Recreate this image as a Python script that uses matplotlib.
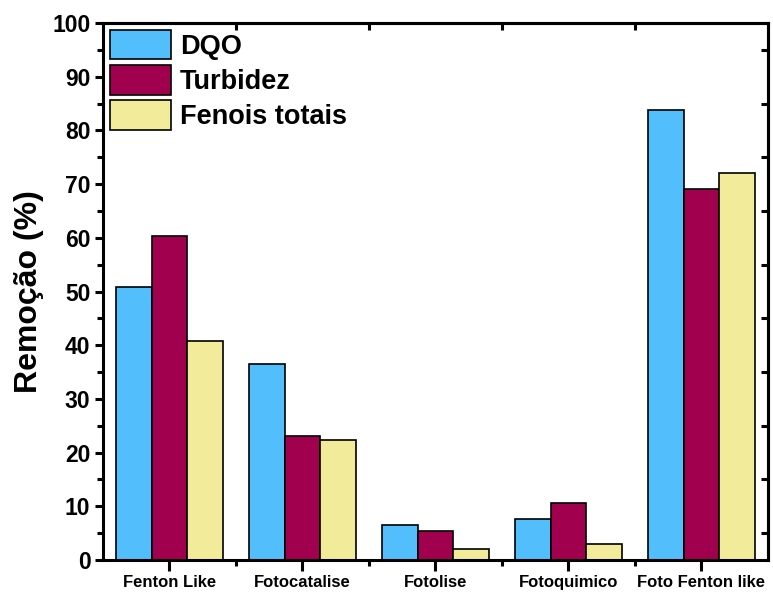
import matplotlib
matplotlib.use("Agg")
import matplotlib.pyplot as plt
import numpy as np

plt.rcParams['font.family'] = ['Liberation Sans', 'DejaVu Sans']
plt.rcParams['font.weight'] = 'bold'

categories = ["Fenton Like", "Fotocatalise", "Fotolise", "Fotoquimico", "Foto Fenton like"]
series_names = ["DQO", "Turbidez", "Fenois totais"]
dqo = [50.8, 36.5, 6.6, 7.7, 83.8]
turbidez = [60.4, 23.1, 5.5, 10.6, 69.1]
fenois = [40.8, 22.3, 2.1, 2.9, 72.0]
colors = ["#52BEFC", "#A0004E", "#F2EC9A"]
y_ticks = [0, 10, 20, 30, 40, 50, 60, 70, 80, 90, 100]

fig = plt.figure(figsize=(7.73, 5.92), dpi=100)
ax = fig.add_axes([0.1332, 0.054, 0.8603, 0.907])

x = np.arange(1, len(categories) + 1)
w = 0.27
for i, (vals, name, c) in enumerate(zip([dqo, turbidez, fenois], series_names, colors)):
    ax.bar(x + (i - 1) * w, vals, width=w, color=c, edgecolor='black',
           linewidth=1.2, label=name, zorder=2)

ax.set_xlim(0.5, len(categories) + 0.5)
ax.set_ylim(0, 100)
ax.set_yticks(y_ticks)
ax.set_yticklabels([str(v) for v in y_ticks], fontsize=16.5, fontweight='bold')
ax.set_yticks(np.arange(5, 100, 10), minor=True)
ax.set_xticks(x)
ax.set_xticklabels(categories, fontsize=12, fontweight='bold')
ax.set_xticks(np.arange(1.5, len(categories), 1.0), minor=True)

ax.tick_params(axis='y', which='major', direction='out', length=6, width=2.2, pad=3)
ax.tick_params(axis='y', which='minor', direction='out', length=4, width=2.2)
ax.tick_params(axis='x', which='major', direction='out', length=8, width=2.2, pad=3)
ax.tick_params(axis='x', which='minor', direction='out', length=4, width=2.2)

for s in ax.spines.values():
    s.set_linewidth(2.2)

# mirrored inward ticks on top and right
top = ax.secondary_xaxis('top')
top.set_xticks(np.arange(1.5, len(categories), 1.0))
top.set_xticklabels([])
top.tick_params(direction='in', length=5, width=2.2)
top.spines['top'].set_linewidth(2.2)
right = ax.secondary_yaxis('right')
right.set_yticks(np.arange(5, 100, 10))
right.set_yticklabels([])
right.tick_params(direction='in', length=5, width=2.2)
right.spines['right'].set_linewidth(2.2)

ax.set_ylabel("Remoção (%)", fontsize=23, fontweight='bold', labelpad=6)

leg = ax.legend(loc='upper left', frameon=False, fontsize=19.5,
                handlelength=2.25, handleheight=1.3, handletextpad=0.35,
                labelspacing=0.2, borderaxespad=0.15, borderpad=0.1)
for t in leg.get_texts():
    t.set_fontweight('bold')

fig.savefig("out.png", dpi=100)
